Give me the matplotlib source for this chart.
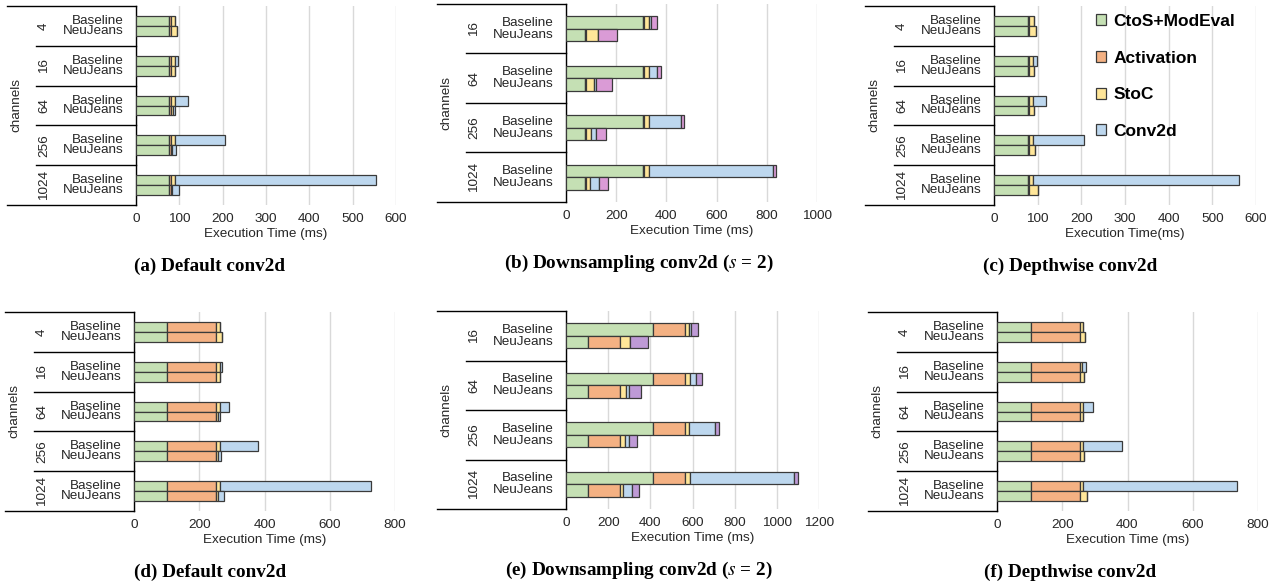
import matplotlib.pyplot as plt
from matplotlib.transforms import blended_transform_factory
from matplotlib.patches import Patch

plt.rcParams['font.family'] = ['Liberation Sans', 'DejaVu Sans']
plt.rcParams['mathtext.fontset'] = 'stix'

W, H = 1281, 584

### Data (ms), one list per stacked segment ###
series = ['CtoS+ModEval', 'Activation', 'StoC', 'Conv2d']
colors = ['#C5E0B4', '#F4B183', '#FFE699', '#BDD7EE']

ch5 = [4, 16, 64, 256, 1024]
ch4 = [16, 64, 256, 1024]

# (a) Default conv2d
a_base = [[77, 77, 77, 77, 77], [3, 3, 3, 3, 3], [11, 10, 10, 10, 10], [0, 8, 29, 116, 463]]
a_neu = [[77, 77, 77, 77, 77], [3, 3, 3, 3, 3], [15, 11, 6, 3, 2], [0, 0, 4, 9, 18]]
# (b) Downsampling conv2d
b_base = [[306, 306, 306, 306], [4, 4, 4, 4], [21, 21, 21, 21], [8, 31, 126, 492], [22, 18, 12, 12]]
b_neu = [[76, 76, 76, 76], [4, 4, 4, 4], [46, 32, 21, 16], [0, 6, 17, 37], [79, 64, 42, 33]]
# (c) Depthwise conv2d
c_base = [[78, 78, 78, 78, 78], [3, 3, 3, 3, 3], [10, 8, 8, 8, 8], [0, 9, 30, 117, 472]]
c_neu = [[78, 78, 78, 78, 78], [3, 3, 3, 3, 3], [15, 11, 11, 13, 20], [0, 0, 0, 0, 0]]
# (d) Default conv2d
d_base = [[102, 102, 102, 102, 102], [150, 150, 150, 150, 150], [11, 11, 11, 11, 11], [0, 7, 29, 118, 464]]
d_neu = [[102, 102, 102, 102, 102], [150, 150, 150, 150, 150], [18, 13, 7, 5, 4], [0, 0, 4, 10, 20]]
# (e) Downsampling conv2d
e_base = [[411, 411, 411, 411], [152, 154, 152, 154], [19, 22, 22, 22], [10, 28, 122, 495], [35, 29, 19, 18]]
e_neu = [[104, 104, 104, 104], [151, 151, 151, 151], [50, 30, 23, 17], [0, 12, 19, 40], [83, 57, 42, 35]]
# (f) Depthwise conv2d
f_base = [[103, 103, 103, 103, 103], [150, 150, 150, 150, 150], [11, 9, 10, 10, 10], [0, 10, 31, 119, 472]]
f_neu = [[103, 103, 103, 103, 103], [150, 150, 150, 150, 150], [18, 13, 12, 13, 23], [0, 0, 0, 0, 0]]


fig = plt.figure(figsize=(W / 100, H / 100), dpi=100)


def fx(px):
    return px / W


def fy(py):
    return 1 - py / H


def panel(box, chans, base, neu, xmax, step, xlabel, caption, cap_x, purple=None):
    l, r, t, b = box
    ax = fig.add_axes([fx(l), fy(b), fx(r - l), (b - t) / H])
    n = len(chans)
    cols = colors + ([purple] if purple else [])
    for variant, off in ((base, 0.375), (neu, 0.625)):
        left = [0] * n
        for k, seg in enumerate(variant):
            ax.barh([i + off for i in range(n)], seg, height=0.25, left=left,
                    color=cols[k], edgecolor='#3a3a3a', linewidth=0.9, zorder=3)
            left = [p + q for p, q in zip(left, seg)]
    ax.set_ylim(n, 0)
    ax.set_xlim(0, xmax)
    ax.set_xticks(range(0, xmax + 1, step))
    ax.set_yticks([])
    ax.tick_params(axis='x', length=0, labelsize=9.7, labelcolor='#262626', pad=6)
    ax.grid(axis='x', color='#D9D9D9', linewidth=1, zorder=0)
    for s in ('top', 'right', 'bottom'):
        ax.spines[s].set_visible(False)
    ax.spines['left'].set_color('black')
    ax.spines['left'].set_linewidth(1)
    ax.set_xlabel(xlabel, fontsize=9.7, color='#262626', labelpad=2)

    tr = blended_transform_factory(fig.transFigure, ax.transData)
    for yv in [0, n]:
        ax.plot([fx(l - 129), fx(l)], [yv, yv], transform=tr, color='black', lw=1, clip_on=False)
    for yv in range(1, n):
        ax.plot([fx(l - 100), fx(l)], [yv, yv], transform=tr, color='black', lw=1, clip_on=False)
    for i, c in enumerate(chans):
        ax.text(fx(l - 92), i + 0.5, str(c), transform=tr, rotation=90, ha='center', va='center',
                fontsize=9.7, color='#262626')
        ax.text(fx(l - 12.5), i + 0.375, 'Baseline', transform=tr, ha='right', va='center',
                fontsize=9.7, color='#262626')
        ax.text(fx(l - 12.5), i + 0.625, 'NeuJeans', transform=tr, ha='right', va='center',
                fontsize=9.7, color='#262626')
    fig.text(fx(l - 120), fy((t + b) / 2), 'channels', rotation=90, ha='center', va='center',
             fontsize=9.7, color='#262626')
    fig.text(fx(cap_x), fy(b + 61), caption, ha='center', va='center', fontsize=13.8,
             fontweight='bold', family='Liberation Serif')
    return ax


panel((136, 396, 6, 205), ch5, a_base, a_neu, 600, 100, 'Execution Time (ms)',
      '(a) Default conv2d', 210)
panel((566, 817, 4, 202), ch4, b_base, b_neu, 1000, 200, 'Execution Time (ms)',
      r'(b) Downsampling conv2d ($\mathit{s}$ = 2)', 639, purple='#DA9BD6')
ax_c = panel((994, 1256, 6, 205), ch5, c_base, c_neu, 600, 100, 'Execution Time(ms)',
             '(c) Depthwise conv2d', 1070)
panel((134, 395, 312, 511), ch5, d_base, d_neu, 800, 200, 'Execution Time (ms)',
      '(d) Default conv2d', 210)
panel((566, 819, 311, 509), ch4, e_base, e_neu, 1200, 200, 'Execution Time (ms)',
      r'(e) Downsampling conv2d ($\mathit{s}$ = 2)', 639, purple='#BE9AD6')
panel((997, 1258, 312, 511), ch5, f_base, f_neu, 800, 200, 'Execution Time (ms)',
      '(f) Depthwise conv2d', 1070)

handles = [Patch(facecolor=c, edgecolor='#3a3a3a', linewidth=0.9) for c in colors]
leg = fig.legend(handles, series, loc='upper left', bbox_to_anchor=(fx(1096), fy(14)),
                 frameon=False, handlelength=0.6, handleheight=0.6, handletextpad=0.4,
                 labelspacing=1.25, borderaxespad=0, borderpad=0,
                 prop={'weight': 'bold', 'size': 12.5})

fig.savefig('out.png', dpi=100)
